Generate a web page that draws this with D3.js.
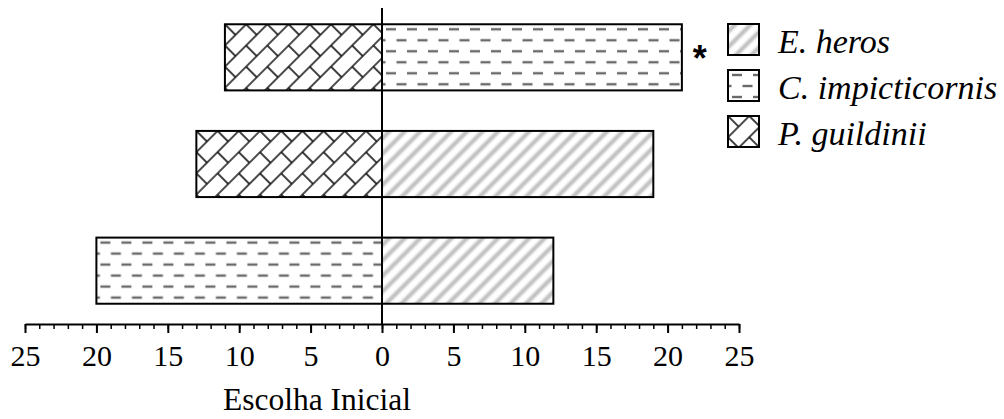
<!DOCTYPE html>
<html>
<head>
<meta charset="utf-8">
<script src="https://cdn.jsdelivr.net/npm/d3@7"></script>
<style>
  body { margin: 0; background: #fff; }
</style>
</head>
<body>
<div id="chart"></div>
<script>
var width = 1004, height = 419;

// data, top row to bottom row
var rows = ["a", "b", "c"];
var leftSpecies = ["P. guildinii", "P. guildinii", "C. impicticornis"];
var leftValues = [11, 13, 20];
var rightSpecies = ["C. impicticornis", "E. heros", "E. heros"];
var rightValues = [21, 19, 12];
var significant = [true, false, false];
var species = ["E. heros", "C. impicticornis", "P. guildinii"];
var patternIds = ["stripes", "dashes", "bricks"];
var tickLabels = [-25, -20, -15, -10, -5, 0, 5, 10, 15, 20, 25];

var serif = "'Liberation Serif'";

var x = d3.scaleLinear().domain([-25, 25]).range([25, 739]);
var y = d3.scaleBand().domain(rows).range([4, 324]).paddingInner(0.38).paddingOuter(0.19);
var ly = d3.scaleBand().domain(species).range([24, 162]);
var patternOf = d3.scaleOrdinal().domain(species).range(patternIds);

var svg = d3.select("#chart").append("svg")
  .attr("width", width)
  .attr("height", height);

var defs = svg.append("defs");

// light grey diagonal stripes
var stripes = defs.append("pattern")
  .attr("id", "stripes")
  .attr("patternUnits", "userSpaceOnUse")
  .attr("width", 11).attr("height", 11)
  .attr("patternTransform", "rotate(45)");
stripes.append("line")
  .attr("x1", 5.5).attr("y1", -1).attr("x2", 5.5).attr("y2", 12)
  .attr("stroke", "#e4e4e4").attr("stroke-width", 6);
stripes.append("line")
  .attr("x1", 5.5).attr("y1", -1).attr("x2", 5.5).attr("y2", 12)
  .attr("stroke", "#c4c4c4").attr("stroke-width", 3.2);

// staggered grey dashes
var dashes = defs.append("pattern")
  .attr("id", "dashes")
  .attr("patternUnits", "userSpaceOnUse")
  .attr("x", 3).attr("y", 5)
  .attr("width", 21).attr("height", 22);
dashes.append("line")
  .attr("x1", 1).attr("y1", 0).attr("x2", 11).attr("y2", 0)
  .attr("stroke", "#6a6a6a").attr("stroke-width", 2.4);
dashes.append("line")
  .attr("x1", 1).attr("y1", 22).attr("x2", 11).attr("y2", 22)
  .attr("stroke", "#6a6a6a").attr("stroke-width", 2.4);
dashes.append("line")
  .attr("x1", 11.5).attr("y1", 11).attr("x2", 21.5).attr("y2", 11)
  .attr("stroke", "#6a6a6a").attr("stroke-width", 2.4);
dashes.append("line")
  .attr("x1", -9.5).attr("y1", 11).attr("x2", 0.5).attr("y2", 11)
  .attr("stroke", "#6a6a6a").attr("stroke-width", 2.4);

// diagonal brick
var bricks = defs.append("pattern")
  .attr("id", "bricks")
  .attr("patternUnits", "userSpaceOnUse")
  .attr("width", 30).attr("height", 30)
  .attr("patternTransform", "rotate(-45)");
bricks.append("path")
  .attr("d", "M0,0H30M0,15H30M0,30H30M0,0V15M15,15V30M30,0V15")
  .attr("fill", "none")
  .attr("stroke", "#111")
  .attr("stroke-width", 1.6);

function drawBar(sel, x0, x1, yy, sp) {
  var g = sel.append("g")
    .attr("transform", "translate(" + x0 + "," + yy + ")");
  g.append("rect")
    .attr("width", x1 - x0)
    .attr("height", y.bandwidth())
    .attr("fill", "url(#" + patternOf(sp) + ")")
    .attr("stroke", "#000")
    .attr("stroke-width", 2);
}

var bars = svg.append("g");
rows.forEach(function(r, i) {
  drawBar(bars, x(-leftValues[i]), x(0), y(r), leftSpecies[i]);
  drawBar(bars, x(0), x(rightValues[i]), y(r), rightSpecies[i]);
  if (significant[i]) {
    svg.append("text")
      .attr("x", x(rightValues[i]) + 18)
      .attr("y", y(r) + y.bandwidth() / 2 + 14)
      .attr("text-anchor", "middle")
      .style("font-family", "'Liberation Sans'")
      .style("font-weight", "bold")
      .style("font-size", "36px")
      .text("*");
  }
});

// zero line
svg.append("line")
  .attr("x1", x(0)).attr("x2", x(0))
  .attr("y1", 8).attr("y2", 324)
  .attr("stroke", "#000")
  .attr("stroke-width", 2);

// x axis: minor ticks then major ticks with labels
var axisG = svg.append("g").attr("transform", "translate(0,324)");
axisG.append("g")
  .call(d3.axisBottom(x).tickValues(d3.range(-25, 26, 1)).tickSize(5).tickSizeOuter(0).tickFormat(""))
  .call(function(g) { g.select(".domain").remove(); })
  .selectAll("line").attr("stroke-width", 1.5);
var major = axisG.append("g")
  .call(d3.axisBottom(x).tickValues(tickLabels).tickSize(9).tickSizeOuter(0).tickPadding(12)
    .tickFormat(function(d) { return Math.abs(d); }));
major.select(".domain").attr("stroke-width", 2);
major.selectAll("line").attr("stroke-width", 2);
major.selectAll("text")
  .style("font-family", serif)
  .style("font-size", "30px");

svg.append("text")
  .attr("x", 317)
  .attr("y", 410)
  .attr("text-anchor", "middle")
  .style("font-family", serif)
  .style("font-size", "31.5px")
  .text("Escolha Inicial");

// legend
var legend = svg.append("g").selectAll("g")
  .data(species).enter()
  .append("g")
  .attr("transform", function(d) { return "translate(728," + ly(d) + ")"; });
legend.append("rect")
  .attr("width", 31).attr("height", 31)
  .attr("fill", function(d) { return "url(#" + patternOf(d) + ")"; })
  .attr("stroke", "#000")
  .attr("stroke-width", 2);
legend.append("text")
  .attr("x", 50)
  .attr("y", 29)
  .style("font-family", serif)
  .style("font-size", "34px")
  .style("font-style", "italic")
  .text(function(d) { return d; });
</script>
</body>
</html>
